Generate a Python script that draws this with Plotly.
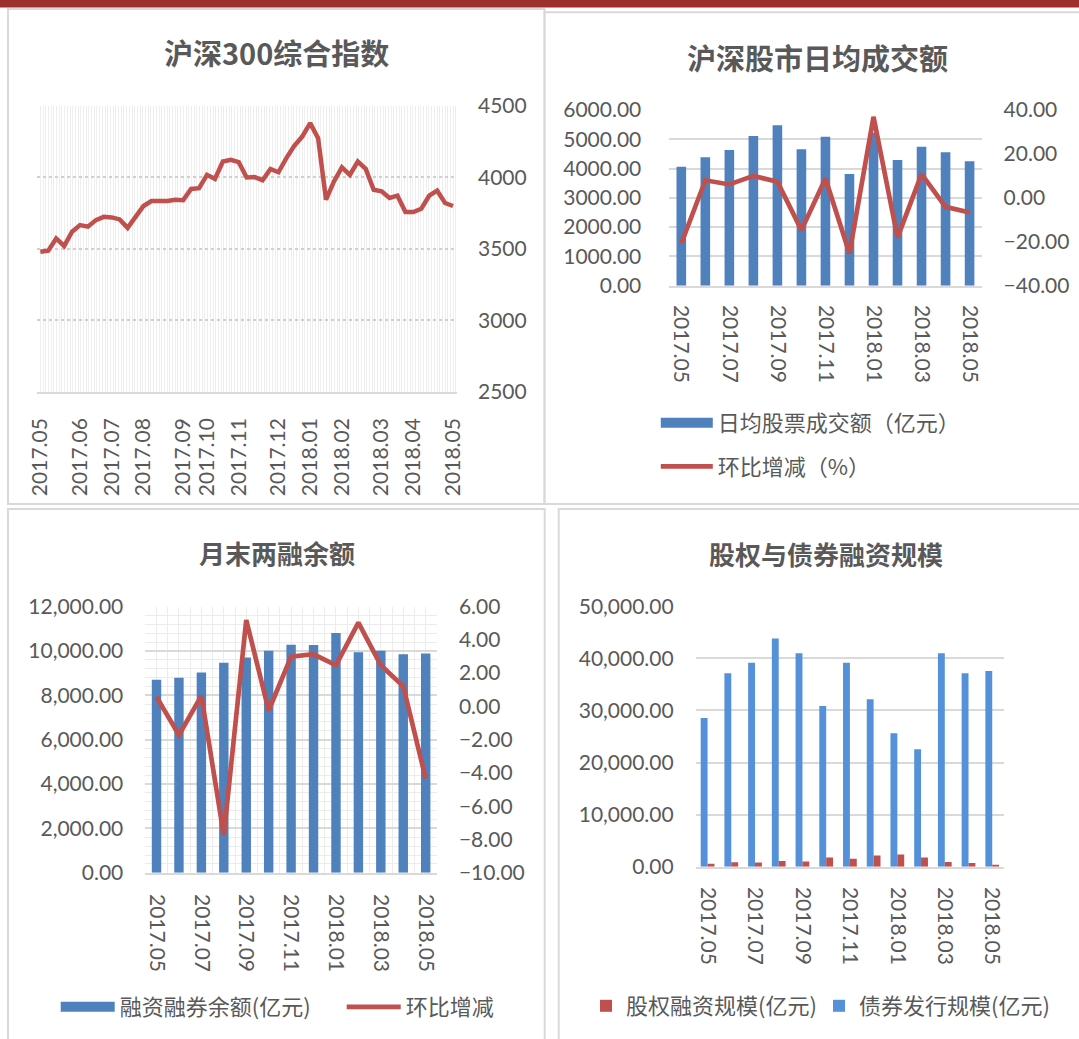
import plotly.graph_objects as go

W, H = 1079, 1039

# ---------------- data ----------------
# Chart 1: CSI 300 weekly closes
hs300 = [3480, 3487, 3573, 3520, 3620, 3666, 3655, 3701, 3724, 3720,
         3706, 3647, 3724, 3800, 3835, 3833, 3835, 3844, 3841, 3919,
         3925, 4018, 3990, 4111, 4123, 4107, 4000, 4003, 3980, 4059,
         4036, 4135, 4221, 4286, 4380, 4275, 3844, 3972, 4070, 4018,
         4111, 4060, 3914, 3903, 3856, 3872, 3758, 3758, 3781, 3872,
         3907, 3821, 3800]
hs300_tick_pos = [0, 5, 9, 13, 18, 21, 25, 30, 34, 38, 43, 47, 52]
hs300_tick_labels = ["2017.05", "2017.06", "2017.07", "2017.08", "2017.09", "2017.10",
                     "2017.11", "2017.12", "2018.01", "2018.02", "2018.03", "2018.04", "2018.05"]

# monthly categories (charts 2-4)
months = ["2017.05", "2017.06", "2017.07", "2017.08", "2017.09", "2017.10", "2017.11",
          "2017.12", "2018.01", "2018.02", "2018.03", "2018.04", "2018.05"]

# Chart 2: daily average turnover
turnover = [4064, 4385, 4635, 5113, 5478, 4658, 5089, 3815, 5223, 4293, 4748, 4556, 4249]
turnover_mom = [-20.8, 8.0, 6.1, 10.0, 7.3, -14.7, 8.8, -25.3, 36.9, -18.1, 10.8, -4.1, -6.7]

# Chart 3: margin balance
margin_bal = [8701, 8793, 9023, 9468, 9698, 10005, 10281, 10266, 10803, 9944, 10005, 9852, 9882]
margin_mom = [0.57, -1.72, 0.63, -7.75, 5.19, -0.25, 2.99, 3.13, 2.47, 5.03, 2.47, 1.21, -4.34]

# Chart 4: equity and bond financing
bond = [28562, 37124, 39150, 43791, 40980, 30850, 39150, 32157, 25621, 22549, 40980, 37124, 37582]
equity = [588, 850, 784, 1111, 980, 1765, 1503, 2157, 2353, 1765, 915, 719, 392]

# ---------------- styling ----------------
BLUE = "#4f81bd"
BLUE2 = "#5591d8"
RED = "#c0504d"
GRID = "#d9d9d9"
TXT = "#595959"
NUMFONT = dict(family="Lato, 'Noto Sans CJK SC'", size=21, color=TXT)
LEGFONT = dict(family="'Noto Sans CJK SC'", size=22, color=TXT)


def fx(p):
    return p / W


def fy(p):
    return 1 - p / H


idx = list(range(len(months)))
hs_idx = list(range(len(hs300)))

fig = go.Figure()

# Chart 1
fig.add_trace(go.Scatter(x=hs_idx, y=hs300, mode="lines", line=dict(color=RED, width=4.5),
                         xaxis="x", yaxis="y", showlegend=False, name="沪深300"))

# Chart 2
fig.add_trace(go.Bar(x=idx, y=turnover, width=0.4, marker=dict(color=BLUE, line=dict(width=0)),
                     xaxis="x2", yaxis="y2", showlegend=False, name="日均股票成交额（亿元）"))
fig.add_trace(go.Scatter(x=[None], y=[None], mode="lines", line=dict(color=BLUE, width=14),
                         name="日均股票成交额（亿元）", legend="legend2", legendgroup="a",
                         xaxis="x2", yaxis="y2"))
fig.add_trace(go.Scatter(x=idx, y=turnover_mom, mode="lines", line=dict(color=RED, width=4.7),
                         name="环比增减（%）", legend="legend2", legendgroup="b",
                         xaxis="x2", yaxis="y3"))

# Chart 3
fig.add_trace(go.Bar(x=idx, y=margin_bal, width=0.42, marker=dict(color=BLUE, line=dict(width=0)),
                     xaxis="x3", yaxis="y4", showlegend=False, name="融资融券余额(亿元)"))
fig.add_trace(go.Scatter(x=[None], y=[None], mode="lines", line=dict(color=BLUE, width=14),
                         name="融资融券余额(亿元)", legend="legend3", xaxis="x3", yaxis="y4"))
fig.add_trace(go.Scatter(x=idx, y=margin_mom, mode="lines", line=dict(color=RED, width=4.7),
                         name="环比增减", legend="legend3", xaxis="x3", yaxis="y5"))

# Chart 4
fig.add_trace(go.Bar(x=idx, y=bond, width=0.29, offset=-0.29,
                     marker=dict(color=BLUE2, line=dict(width=0)),
                     name="债券发行规模(亿元)", legend="legend4", xaxis="x4", yaxis="y6"))
fig.add_trace(go.Bar(x=idx, y=equity, width=0.29, offset=0.0,
                     marker=dict(color=RED, line=dict(width=0)),
                     name="股权融资规模(亿元)", legend="legend4", xaxis="x4", yaxis="y6"))

common_x = dict(ticks="", tickfont=NUMFONT, zeroline=False, fixedrange=True, automargin=False)
common_y = dict(ticks="", tickfont=NUMFONT, zeroline=False, fixedrange=True, automargin=False)

fig.update_layout(
    template="none",
    width=W, height=H,
    margin=dict(l=0, r=0, t=0, b=0, pad=0, autoexpand=False),
    paper_bgcolor="white", plot_bgcolor="rgba(0,0,0,0)",
    barmode="overlay",
    # ---- chart 1 ----
    xaxis=dict(common_x, domain=[fx(37.3), fx(457)], anchor="y", range=[-0.38, 52.5],
               tickmode="array", tickvals=hs300_tick_pos, ticktext=hs300_tick_labels,
               tickangle=-90, showgrid=False, showline=True, linecolor=GRID, linewidth=2,
               ticklabelstandoff=16,
               minor=dict(tickmode="linear", tick0=0, dtick=0.34, showgrid=True,
                          gridcolor="#eeeeee", gridwidth=1.2)),
    yaxis=dict(common_y, domain=[fy(391.7), fy(106)], anchor="x", side="right",
               range=[2500, 4500], dtick=500, tick0=2500, showgrid=True, gridcolor="#d0d0d0",
               griddash="dot", gridwidth=1.5, ticklabelstandoff=20),
    # ---- chart 2 ----
    xaxis2=dict(common_x, domain=[fx(669.3), fx(981.6)], anchor="y2", range=[-0.5, 12.5],
                tickmode="array", tickvals=idx[::2], ticktext=months[::2], tickangle=90,
                showgrid=False, showline=True, linecolor=GRID, linewidth=2, ticklabelstandoff=13),
    yaxis2=dict(common_y, domain=[fy(285.7), fy(110)], anchor="x2", range=[0, 6000], dtick=1000,
                tickformat=".2f", showgrid=True, gridcolor=GRID, gridwidth=2, ticklabelstandoff=27),
    yaxis3=dict(common_y, overlaying="y2", anchor="x2", side="right", range=[-40, 40], dtick=20,
                tickformat=".2f", showgrid=False, ticklabelstandoff=21),
    # ---- chart 3 ----
    xaxis3=dict(common_x, domain=[fx(145.3), fx(436.9)], anchor="y4", range=[-0.5, 12.5],
                tickmode="array", tickvals=idx[::2], ticktext=months[::2], tickangle=90,
                showgrid=False, showline=True, linecolor=GRID, linewidth=2, ticklabelstandoff=15,
                minor=dict(tickmode="linear", tick0=-0.5, dtick=0.5, showgrid=True,
                           gridcolor="#ececec", gridwidth=1.2)),
    xaxis5=dict(overlaying="x3", anchor="y4", range=[-0.5, 12.5], tickmode="linear", tick0=-0.5,
                dtick=1, ticks="outside", ticklen=7, tickwidth=1.5, tickcolor=GRID,
                showticklabels=False, showgrid=False, zeroline=False, fixedrange=True,
                automargin=False, showline=False),
    yaxis4=dict(common_y, domain=[fy(872.8), fy(606.5)], anchor="x3", range=[0, 12000], dtick=2000,
                tickformat=",.2f", showgrid=True, gridcolor=GRID, gridwidth=1.5, ticklabelstandoff=21,
                minor=dict(tickmode="linear", tick0=0, dtick=400, showgrid=True,
                           gridcolor="#ececec", gridwidth=1.2)),
    yaxis5=dict(common_y, overlaying="y4", anchor="x3", side="right", range=[-10, 6], dtick=2,
                tickformat=".2f", showgrid=False, ticklabelstandoff=21),
    # ---- chart 4 ----
    xaxis4=dict(common_x, domain=[fx(695.7), fx(1004.1)], anchor="y6", range=[-0.5, 12.5],
                tickmode="array", tickvals=idx[::2], ticktext=months[::2], tickangle=90,
                showgrid=False, showline=True, linecolor=GRID, linewidth=2, ticklabelstandoff=14),
    yaxis6=dict(common_y, domain=[fy(866.7), fy(606.2)], anchor="x4", range=[0, 50000], dtick=10000,
                tickformat=",.2f", showgrid=True, gridcolor=GRID, gridwidth=2, ticklabelstandoff=21),
    # ---- legends ----
    showlegend=True,
    legend2=dict(x=fx(655.8), y=fy(402), xanchor="left", yanchor="top", orientation="v",
                 itemwidth=52, font=LEGFONT, traceorder="grouped", tracegroupgap=12,
                 bgcolor="rgba(0,0,0,0)", borderwidth=0),
    legend3=dict(x=fx(55.7), y=fy(986), xanchor="left", yanchor="top", orientation="h",
                 itemwidth=54, entrywidth=217, entrywidthmode="pixels", font=LEGFONT,
                 bgcolor="rgba(0,0,0,0)", borderwidth=0),
    legend4=dict(x=fx(586), y=fy(985), xanchor="left", yanchor="top", orientation="h",
                 itemwidth=30, entrywidth=188, entrywidthmode="pixels", font=LEGFONT,
                 traceorder="reversed", bgcolor="rgba(0,0,0,0)", borderwidth=0),
)

# titles
titles = [("沪深300综合指数", 276.7, 51.7, 29),
          ("沪深股市日均成交额", 817, 57, 29),
          ("月末两融余额", 277, 552.7, 26),
          ("股权与债券融资规模", 825.6, 553.4, 26)]
for text, tx, ty, sz in titles:
    fig.add_annotation(text="<b>" + text + "</b>", x=fx(tx), y=fy(ty), xref="paper", yref="paper",
                       xanchor="center", yanchor="middle", showarrow=False,
                       font=dict(family="'Noto Sans CJK SC'", size=sz, color=TXT))

# panel frames and header bar
panels = [(8, 9, 544.5, 504), (544.5, 12.3, 1090, 504), (8, 509, 544.7, 1050), (558.7, 509, 1090, 1050)]
for x0, y0, x1, y1 in panels:
    fig.add_shape(type="rect", xref="paper", yref="paper", x0=fx(x0), x1=fx(x1), y0=fy(y1), y1=fy(y0),
                  line=dict(color=GRID, width=2), fillcolor="rgba(0,0,0,0)", layer="below")
fig.add_shape(type="rect", xref="paper", yref="paper", x0=0, x1=1, y0=fy(7.4), y1=1,
              line=dict(width=0), fillcolor="#9c312c", layer="above")

fig.write_html("out.html", config={"displayModeBar": False},
               post_script="document.body.style.margin='0';document.body.style.overflow='hidden';")
